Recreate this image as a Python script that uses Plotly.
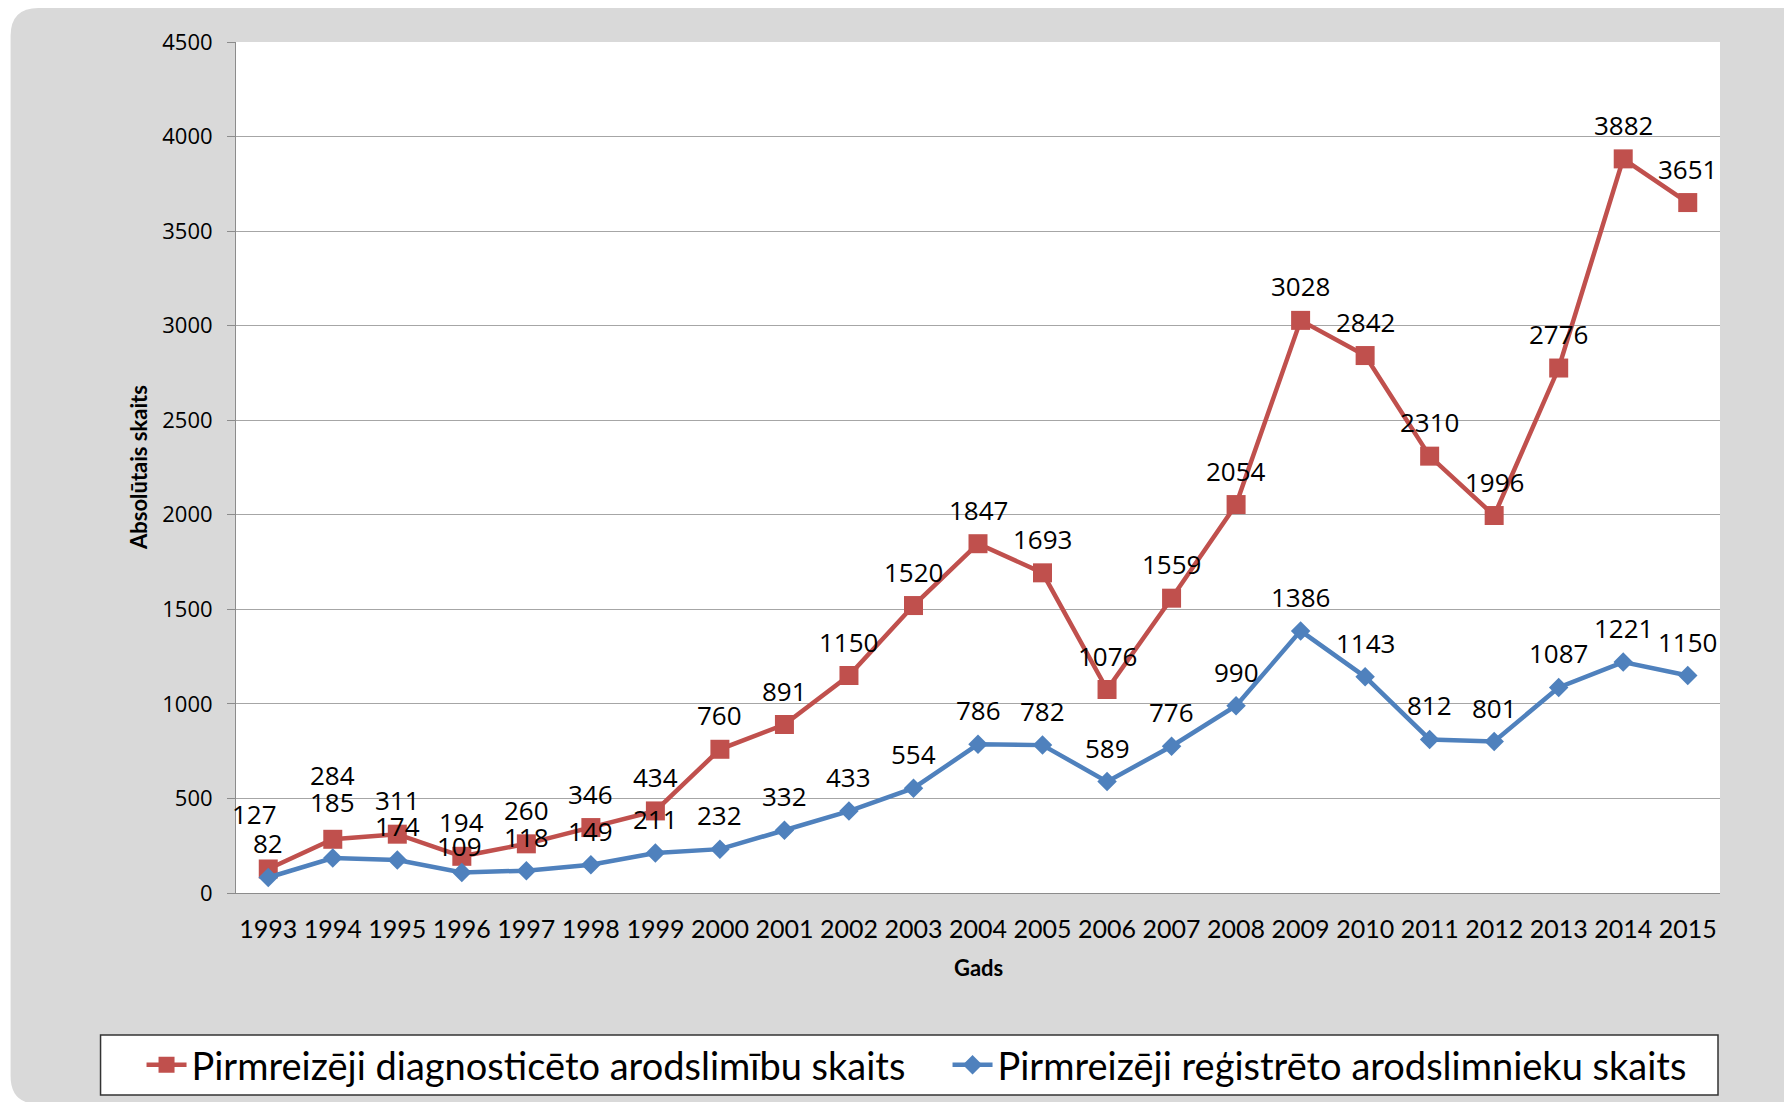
import plotly.graph_objects as go

years = [str(y) for y in range(1993, 2016)]
diagnosed = [127, 284, 311, 194, 260, 346, 434, 760, 891, 1150, 1520, 1847, 1693,
             1076, 1559, 2054, 3028, 2842, 2310, 1996, 2776, 3882, 3651]
registered = [82, 185, 174, 109, 118, 149, 211, 232, 332, 433, 554, 786, 782,
              589, 776, 990, 1386, 1143, 812, 801, 1087, 1221, 1150]
name_diag = "Pirmreizēji diagnosticēto arodslimību skaits"
name_reg = "Pirmreizēji reģistrēto arodslimnieku skaits"
y_ticks = list(range(0, 4501, 500))

# label nudges (px) for labels that were moved by hand in the original chart
diag_label_nudge = {"1993": (-14, 55), "1994": (0, 64)}
reg_label_nudge = {"1994": (0, 56), "1996": (-2, 26)}

RED = "#c0504d"
BLUE = "#4f81bd"
W, H = 1784, 1102
L, R, T, B = 235.5, 1720, 42, 893
PW, PH = R - L, B - T


def px(x):
    return (x - L) / PW


def py(y):
    return (B - y) / PH


fig = go.Figure()
fig.add_trace(go.Scatter(x=years, y=diagnosed, name=name_diag, mode="lines+markers",
                         line=dict(color=RED, width=4.5),
                         marker=dict(symbol="square", size=19, color=RED)))
fig.add_trace(go.Scatter(x=years, y=registered, name=name_reg, mode="lines+markers",
                         line=dict(color=BLUE, width=4.5),
                         marker=dict(symbol="diamond", size=15, color=BLUE)))

annotations = []
for series, nudges in ((diagnosed, diag_label_nudge), (registered, reg_label_nudge)):
    for i, (yr, v) in enumerate(zip(years, series)):
        dx, dy = nudges.get(yr, (0, 34))
        annotations.append(dict(x=i, y=v, xref="x", yref="y", text=str(v),
                                showarrow=False, xshift=dx, yshift=dy, xanchor="center",
                                yanchor="middle",
                                font=dict(family="Open Sans", size=26, color="#000")))
annotations.append(dict(x=px(138), y=0.5, xref="paper", yref="paper",
                        xanchor="center", yanchor="middle",
                        text="<b>Absolūtais skaits</b>", textangle=-90, showarrow=False,
                        font=dict(family="Lato", size=22, color="#000")))
annotations.append(dict(x=0.5, y=py(967), xref="paper", yref="paper",
                        xanchor="center", yanchor="middle",
                        text="<b>Gads</b>", showarrow=False,
                        font=dict(family="Lato", size=22, color="#000")))

# rounded gray background (right and bottom edges run off the page)
x0, x1, y0, y1, r = 10, 1830, 8, 1104, 28
path = (f"M {px(x0 + r)} {py(y0)} L {px(x1 - r)} {py(y0)} "
        f"Q {px(x1)} {py(y0)} {px(x1)} {py(y0 + r)} L {px(x1)} {py(y1 - r)} "
        f"Q {px(x1)} {py(y1)} {px(x1 - r)} {py(y1)} L {px(x0 + r)} {py(y1)} "
        f"Q {px(x0)} {py(y1)} {px(x0)} {py(y1 - r)} L {px(x0)} {py(y0 + r)} "
        f"Q {px(x0)} {py(y0)} {px(x0 + r)} {py(y0)} Z")
shapes = [
    dict(type="path", path=path, xref="paper", yref="paper", fillcolor="#d9d9d9",
         line=dict(width=0), layer="below"),
    dict(type="rect", xref="x domain", yref="y domain", x0=0, x1=1, y0=0, y1=1,
         fillcolor="white", line=dict(width=0), layer="below"),
    dict(type="rect", xref="paper", yref="paper", x0=px(100), x1=px(1718),
         y0=py(1095), y1=py(1035), fillcolor="white",
         line=dict(color="#333", width=1.5), layer="below"),
]

fig.update_layout(
    width=W, height=H,
    margin=dict(l=L, r=W - R, t=T, b=H - B, autoexpand=False),
    paper_bgcolor="white", plot_bgcolor="white",
    showlegend=True,
    legend=dict(orientation="h", x=px(141), xanchor="left", y=py(1065), yanchor="middle",
                bgcolor="rgba(0,0,0,0)", borderwidth=0,
                font=dict(family="Lato", size=38, color="#000"),
                entrywidth=751, entrywidthmode="pixels", itemwidth=40),
    annotations=annotations,
    shapes=shapes,
    xaxis=dict(type="category", range=[-0.5, len(years) - 0.5], showgrid=False,
               showline=True, linecolor="#8c8c8c", linewidth=1, ticks="",
               tickfont=dict(family="Lato", size=25, color="#000"),
               ticklabelstandoff=14, fixedrange=True),
    yaxis=dict(range=[0, 4500], tickvals=y_ticks, showgrid=True, gridcolor="#a6a6a6",
               gridwidth=1, showline=True, linecolor="#8c8c8c", linewidth=1,
               ticks="outside", ticklen=8, tickcolor="#8c8c8c",
               tickfont=dict(family="Open Sans", size=22, color="#000"),
               ticklabelstandoff=10, zeroline=False),
)

fig.write_html("out.html", config={"displayModeBar": False},
               post_script="document.body.style.margin='0';")
